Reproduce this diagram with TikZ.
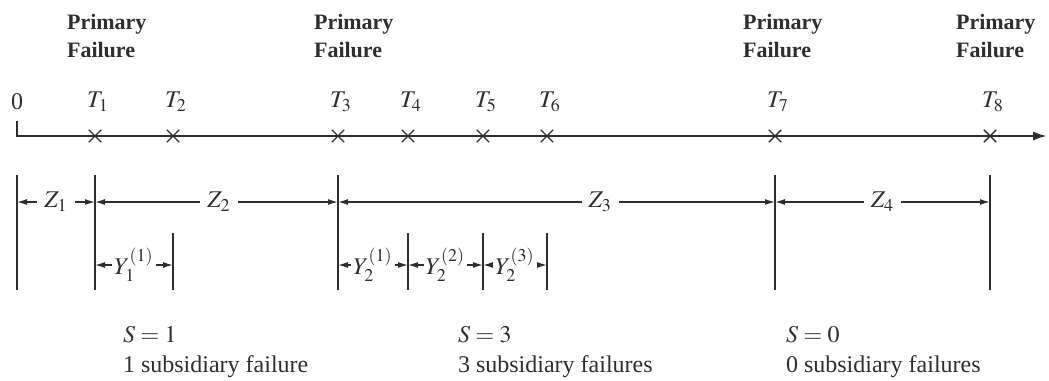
\documentclass[tikz,border=0pt]{standalone}
\usepackage{mathptmx}
\usepackage[no-math]{fontspec}
\setmainfont{Liberation Serif}
\usetikzlibrary{arrows.meta,shapes.misc}
\definecolor{ink}{gray}{0.18}

\begin{document}
\begin{tikzpicture}[x=0.5pt,y=-0.5pt,>={Latex[length=5pt,width=3pt]},
  font=\fontsize{12}{15}\selectfont,
  every node/.style={text=ink},
  tick/.style={draw=ink,line width=0.8pt},
  dim/.style={<->,draw=ink,line width=0.7pt},
  lbl/.style={fill=white,inner sep=3.5pt},
  ylbl/.style={fill=white,inner sep=1pt},
  fail/.style={font=\bfseries\fontsize{11}{14}\selectfont,align=left,anchor=west},
  crossmark/.style={cross out,draw=ink,line width=0.7pt,minimum size=5.5pt,inner sep=0pt}]
\useasboundingbox (0,0) rectangle (1049,380);

% time axis
\coordinate (origtop) at (17,121);
\coordinate (origin) at (17,136);
\coordinate (axend) at (1047,136);
\draw[ink,line width=1.1pt,-{Latex[length=7pt,width=4.5pt]}] (origtop) -- (origin) -- (axend);
\node (zero) at (17,102) {0};
\foreach \x/\i in {95/1,173/2,338/3,408/4,483/5,547/6,775/7,990/8} {
  \node[crossmark] (t\i) at (\x,136) {};
  \node (lt\i) at (\x+3,102) {$T_{\i}$};
}
\foreach \x/\i in {60/1,307/3,736/7,949/8}
  \node[fail] (pf\i) at (\x,36) {Primary\\Failure};

% primary failure lines
\foreach \x/\n in {17/0,95/1,338/2,775/3,990/4} {
  \coordinate (ztop\n) at (\x,175);
  \coordinate (zbot\n) at (\x,290);
  \coordinate (z\n) at (\x,202);
  \draw[tick] (ztop\n) -- (zbot\n);
}
% subsidiary failure lines
\foreach \x/\n in {173/a,408/b,483/c,547/d} {
  \coordinate (ytop\n) at (\x,233);
  \coordinate (ybot\n) at (\x,290);
  \draw[tick] (ytop\n) -- (ybot\n);
}
\coordinate (y1s) at (95,265);
\coordinate (y1e) at (173,265);
\coordinate (y2s) at (338,265);
\coordinate (y2a) at (408,265);
\coordinate (y2b) at (483,265);
\coordinate (y2e) at (547,265);

\draw[dim] (z0) -- node[lbl] (lz1) {$Z_1$} (z1);
\draw[dim] (z1) -- node[lbl,pos=0.51] (lz2) {$Z_2$} (z2);
\draw[dim] (z2) -- node[lbl,pos=0.6] (lz3) {$Z_3$} (z3);
\draw[dim] (z3) -- node[lbl] (lz4) {$Z_4$} (z4);

\draw[dim] (y1s) -- node[ylbl] (ly11) {$Y_1^{(1)}$} (y1e);
\draw[dim] (y2s) -- node[ylbl] (ly21) {$Y_2^{(1)}$} (y2a);
\draw[dim] (y2a) -- node[ylbl] (ly22) {$Y_2^{(2)}$} (y2b);
\draw[dim] (y2b) -- node[ylbl] (ly23) {$Y_2^{(3)}$} (y2e);

% counts
\node[anchor=west,align=left] (s1) at (116,352) {$S=1$\\1 subsidiary failure};
\node[anchor=west,align=left] (s3) at (451,352) {$S=3$\\3 subsidiary failures};
\node[anchor=west,align=left] (s0) at (779,352) {$S=0$\\0 subsidiary failures};
\end{tikzpicture}
\end{document}
